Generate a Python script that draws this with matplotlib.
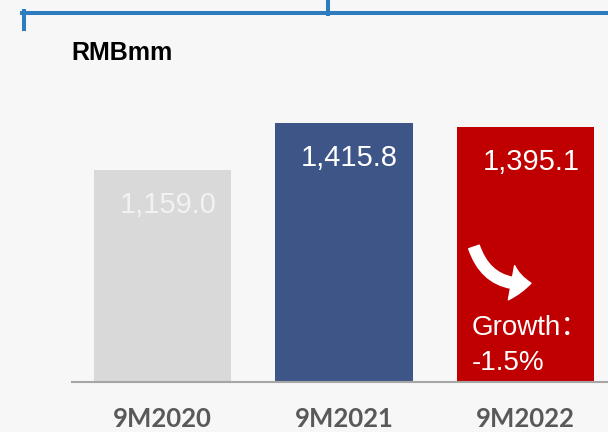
import matplotlib.pyplot as plt
from matplotlib.patches import FancyArrowPatch
from matplotlib.lines import Line2D

periods = ['9M2020', '9M2021', '9M2022']
values = [1159.0, 1415.8, 1395.1]
colors = ['#d9d9d9', '#3e5587', '#c00000']
label_colors = ['#f2f2f2', 'white', 'white']
growth = '-1.5%'

bg = '#f7f7f7'
fig = plt.figure(figsize=(6.08, 4.32), dpi=100, facecolor=bg)
ax = fig.add_axes([72 / 608, 50 / 432, 536 / 608, 292.8 / 432])
ax.set_facecolor(bg)

x = range(len(periods))
ax.bar(x, values, width=0.755, color=colors, zorder=2)
ax.set_xlim(-0.4986, 2.4545)
ax.set_ylim(0, 1600)

for xi, v, c in zip(x, values, label_colors):
    ax.text(xi + 0.03, v - 237, f'{v:,.1f}', ha='center', va='baseline',
            color=c, fontsize=21, family='Liberation Sans')

# growth note on the last bar
arr = FancyArrowPatch((1.716, 738), (2.03, 540),
                      connectionstyle='arc3,rad=0.4',
                      arrowstyle='simple,head_width=25,head_length=14,tail_width=8',
                      shrinkA=0, shrinkB=0, color='white', zorder=3)
ax.add_patch(arr)
ax.text(1.705, 257, 'Growth：', ha='left', va='baseline', color='white',
        fontsize=20, family=['Liberation Sans', 'Noto Sans CJK SC'])
ax.text(1.705, 66, growth, ha='left', va='baseline', color='white',
        fontsize=20, family='Liberation Sans')

for s in ['top', 'right', 'left']:
    ax.spines[s].set_visible(False)
ax.spines['bottom'].set_color('#a6a6a6')
ax.spines['bottom'].set_linewidth(1.5)
ax.set_yticks([])
ax.set_xticks(list(x))
ax.set_xticklabels(periods, fontsize=18.5, fontweight='bold', color='#595959',
                   family='Lato')
ax.tick_params(axis='x', length=0, pad=18)

# bracket lines at top
blue = '#2e7cbf'
fig.add_artist(Line2D([22 / 608, 1], [1 - 13 / 432] * 2, color=blue, lw=2.9))
fig.add_artist(Line2D([24 / 608] * 2, [1 - 11 / 432, 1 - 29 / 432], color=blue, lw=2.9))
fig.add_artist(Line2D([328 / 608] * 2, [1, 1 - 14 / 432], color=blue, lw=2.9))

fig.text(71 / 608, 1 - 60 / 432, 'RMBmm', fontsize=18, fontweight='bold',
         family='Liberation Sans', va='baseline', ha='left')

fig.savefig('out.png', dpi=100, facecolor=bg)
